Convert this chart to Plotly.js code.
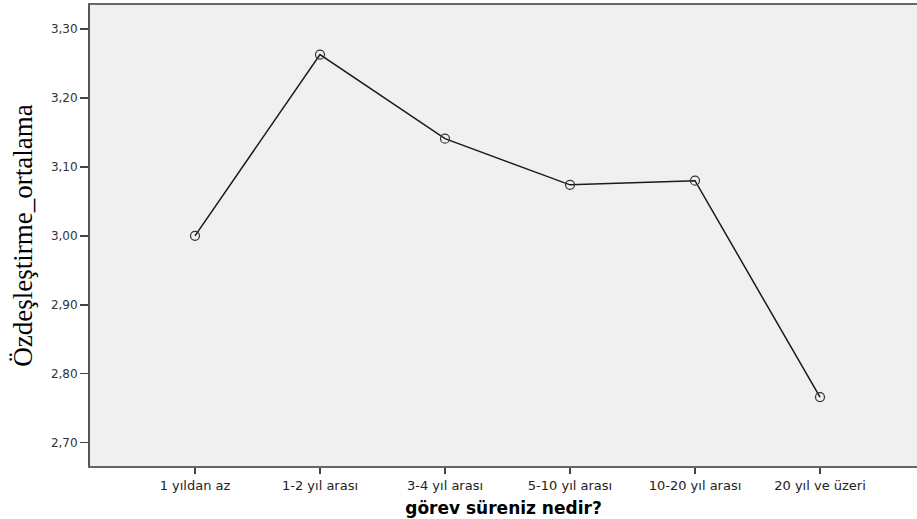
<!DOCTYPE html>
<html>
<head>
<meta charset="utf-8">
<script src="https://cdn.plot.ly/plotly-3.0.1.min.js"></script>
<style>html,body{margin:0;padding:0;background:#fff;}#chart{width:917px;height:519px;}</style>
</head>
<body>
<div id="chart"></div>
<script>
const categories = ["1 yıldan az", "1-2 yıl arası", "3-4 yıl arası", "5-10 yıl arası", "10-20 yıl arası", "20 yıl ve üzeri"];
const means = [3.000, 3.263, 3.141, 3.074, 3.080, 2.766];
const yTicks = [2.70, 2.80, 2.90, 3.00, 3.10, 3.20, 3.30];

const trace = {
  x: categories.map((c, i) => i),
  y: means,
  type: "scatter",
  mode: "lines+markers",
  line: {color: "#1a1a1a", width: 1.5},
  marker: {symbol: "circle-open", size: 9, color: "#333", line: {width: 1.2}},
  hoverinfo: "skip"
};

const layout = {
  width: 917, height: 519,
  margin: {l: 90, r: 0, t: 5, b: 53},
  paper_bgcolor: "#ffffff",
  plot_bgcolor: "#f0f0f0",
  separators: ",.",
  showlegend: false,
  xaxis: {
    range: [-0.84, 5.776],
    tickvals: categories.map((c, i) => i),
    ticktext: categories,
    ticks: "outside", ticklen: 6, tickcolor: "#444", tickwidth: 1.5,
    showline: true, linecolor: "#666", linewidth: 2, mirror: true,
    showgrid: false, zeroline: false,
    tickfont: {family: "DejaVu Sans, sans-serif", size: 13, color: "#222"},
    title: {text: "görev süreniz nedir?", standoff: 11,
            font: {family: "DejaVu Sans, sans-serif", size: 17, color: "#000", weight: "bold"}}
  },
  yaxis: {
    range: [2.666, 3.335],
    tickvals: yTicks,
    tickformat: ".2f",
    ticks: "outside", ticklen: 8, tickcolor: "#444", tickwidth: 1.5,
    showline: true, linecolor: "#555", linewidth: 2,
    showgrid: false, zeroline: false,
    tickfont: {family: "DejaVu Sans, sans-serif", size: 12, color: "#333"},
    title: {text: "Özdeşleştirme_ortalama", standoff: 10,
            font: {family: "Liberation Serif, Times New Roman, serif", size: 27, color: "#000"}}
  }
};

Plotly.newPlot("chart", [trace], layout, {displayModeBar: false, staticPlot: true});
</script>
</body>
</html>
